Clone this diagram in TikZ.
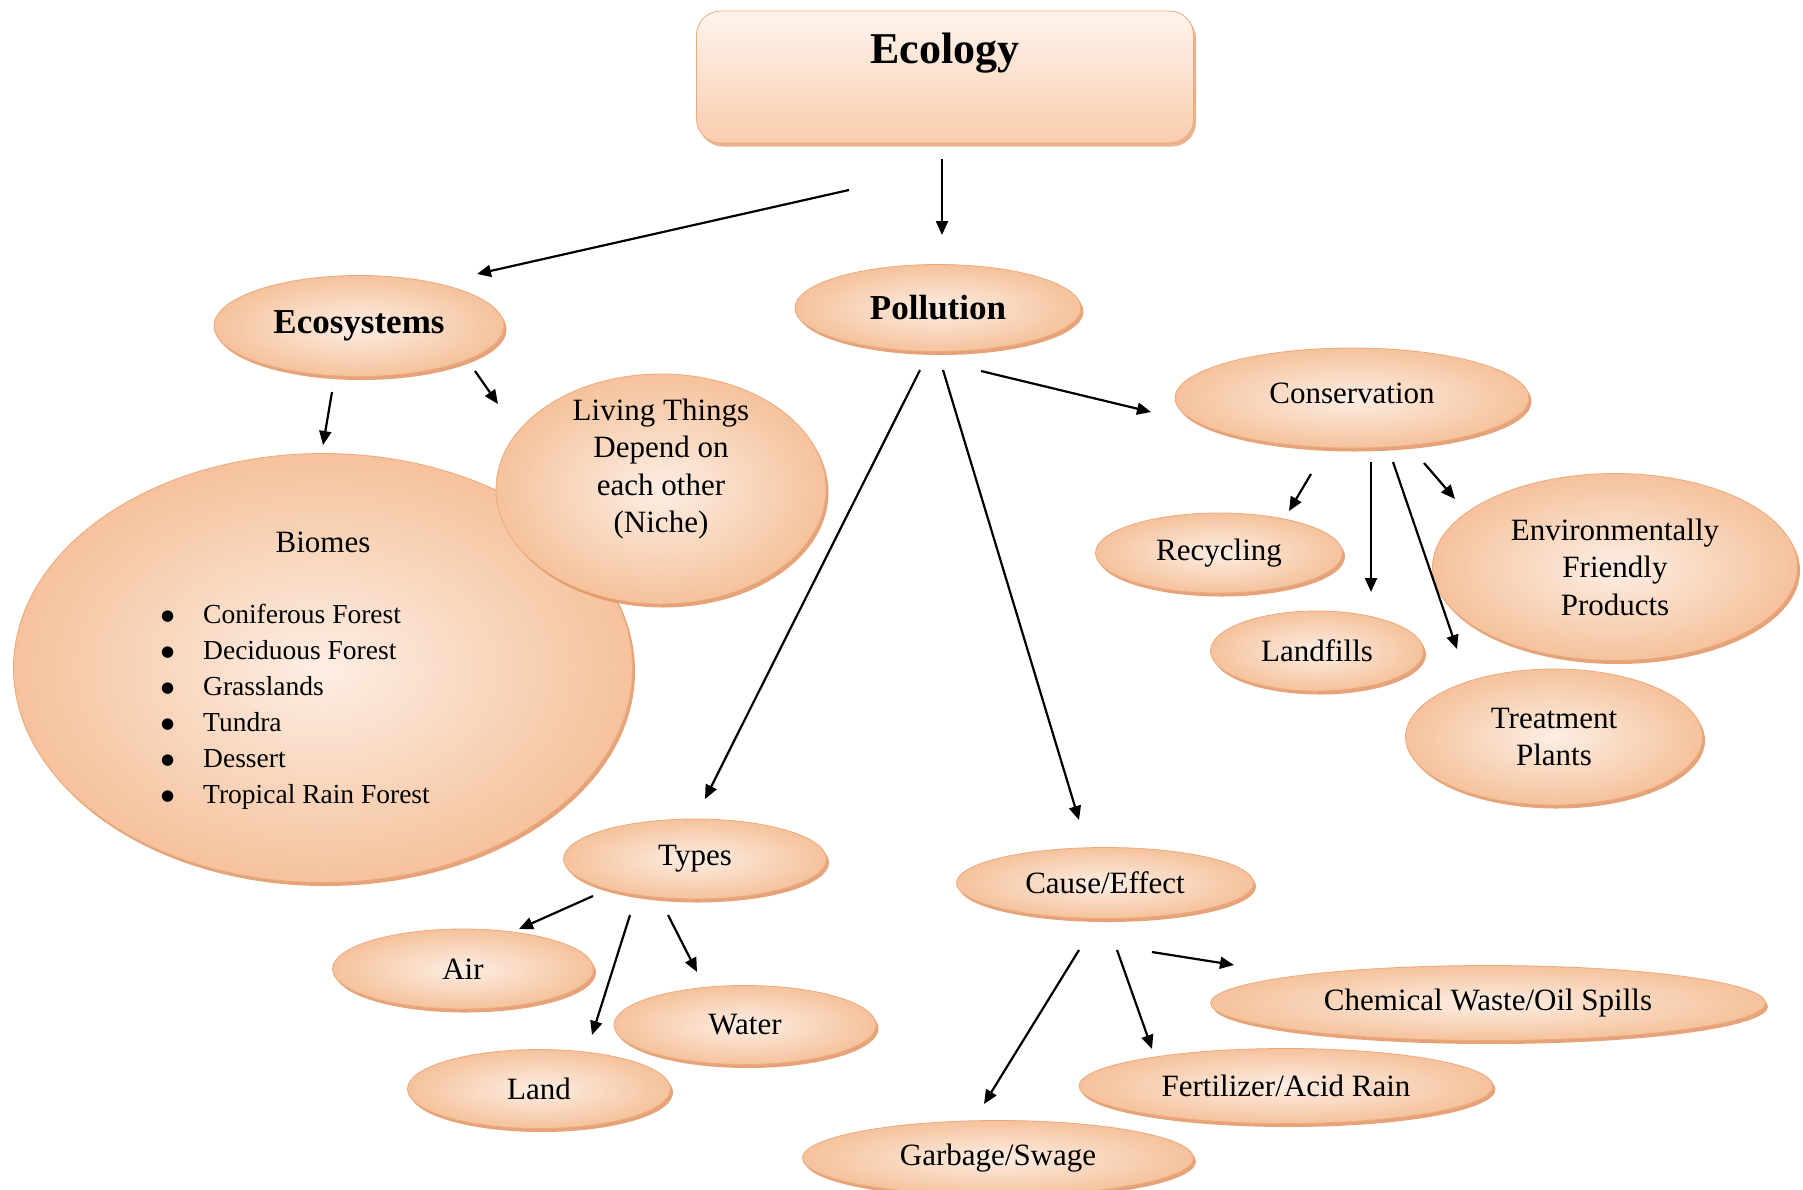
\documentclass[tikz,border=0pt]{standalone}
\usepackage{fontspec}
\setmainfont{Liberation Serif}
\newfontfamily\dotfont{DejaVu Sans}
\usetikzlibrary{shapes.geometric,shadows,arrows.meta}

\definecolor{peach}{RGB}{245,194,156}
\definecolor{peachlight}{RGB}{253,238,228}
\definecolor{peachrim}{RGB}{236,170,124}
\definecolor{peachshadow}{RGB}{226,148,98}
\definecolor{boxtop}{RGB}{254,244,237}
\definecolor{boxbottom}{RGB}{249,205,174}

% bullet for the biome list
\newcommand{\biomedot}{\makebox[42pt][l]{\raisebox{3pt}{\dotfont\fontsize{15}{15}\selectfont ●}}}

\tikzset{
  bubble/.style={ellipse, draw=peachrim, line width=0.8pt,
    shading=radial, inner color=peachlight, outer color=peach,
    drop shadow={shadow xshift=2.5pt, shadow yshift=-3.5pt,
                 fill=peachshadow, opacity=0.85},
    inner sep=0pt, align=center,
    font=\fontsize{31}{37.5}\selectfont},
  headbox/.style={rectangle, rounded corners=24pt, draw=peachrim, line width=0.8pt,
    top color=boxtop, bottom color=boxbottom,
    drop shadow={shadow xshift=2.5pt, shadow yshift=-3.5pt,
                 fill=peachshadow, opacity=0.7},
    inner sep=0pt},
  plaintext/.style={inner sep=0pt, align=center,
    font=\fontsize{31}{37.5}\selectfont},
  boldbig/.style={font=\fontsize{35}{40}\selectfont\bfseries},
  arr/.style={-{Triangle[length=14pt,width=12pt]}, line width=2.2pt},
}

\begin{document}
\begin{tikzpicture}[x=1pt,y=-1pt]
\useasboundingbox (0,0) rectangle (1803,1189);
\fill[white] (0,0) rectangle (1803,1189);

% ---------- top box ----------
\node[headbox, minimum width=497pt, minimum height=132pt] (ecology) at (945,77) {};
\node[inner sep=0pt, font=\fontsize{44}{50}\selectfont\bfseries] (ecologytitle)
  at (945,53) {Ecology};

% ---------- second level ----------
\node[bubble, boldbig, minimum width=290pt, minimum height=101pt] (ecosystems) at (359,326) {Ecosystems};
\node[bubble, boldbig, minimum width=286pt, minimum height=87pt] (pollution) at (938,308) {Pollution};

% ---------- ecosystems branch ----------
\node[bubble, minimum width=619pt, minimum height=429pt] (biomes) at (323,668) {};
\node[plaintext] (biomestitle) at (323,542) {Biomes};
\node[inner sep=0pt, anchor=north west, align=left,
      font=\fontsize{27.5}{35.9}\selectfont] (biomelist) at (161,604)
  {\biomedot Coniferous Forest\\
   \biomedot Deciduous Forest\\
   \biomedot Grasslands\\
   \biomedot Tundra\\
   \biomedot Dessert\\
   \biomedot Tropical Rain Forest};

\node[bubble, minimum width=330pt, minimum height=230pt] (living) at (661,489) {};
\node[plaintext] (livingtext) at (661,469) {Living Things\\Depend on\\each other\\(Niche)};

% ---------- conservation branch ----------
\node[bubble, minimum width=354pt, minimum height=100pt] (conservation) at (1352,398) {\raisebox{9pt}{Conservation}};
\node[bubble, minimum width=247pt, minimum height=80pt] (recycling) at (1219,553) {Recycling};
\node[bubble, minimum width=213pt, minimum height=80pt] (landfills) at (1317,651) {Landfills};
\node[bubble, minimum width=365pt, minimum height=187pt] (friendly) at (1615,567) {Environmentally\\Friendly\\Products};
\node[bubble, minimum width=297pt, minimum height=136pt] (treatment) at (1554,737) {Treatment\\Plants};

% ---------- types branch ----------
\node[bubble, minimum width=263pt, minimum height=80pt] (types) at (695,859) {Types};
\node[bubble, minimum width=261pt, minimum height=80pt] (air) at (463,969) {Air};
\node[bubble, minimum width=262pt, minimum height=79pt] (water) at (745,1025) {Water};
\node[bubble, minimum width=263pt, minimum height=79pt] (land) at (539,1089) {Land};

% ---------- cause/effect branch ----------
\node[bubble, minimum width=297pt, minimum height=71pt] (cause) at (1105,883) {Cause/Effect};
\node[bubble, minimum width=555pt, minimum height=75pt] (chemical) at (1488,1003) {Chemical Waste/Oil Spills};
\node[bubble, minimum width=414pt, minimum height=75pt] (fertilizer) at (1286,1086) {Fertilizer/Acid Rain};
\node[bubble, minimum width=391pt, minimum height=75pt] (garbage) at (998,1158) {Garbage/Swage};

% ---------- connector end points ----------
\coordinate (ecoA) at (849,190);   \coordinate (ecoB) at (477,274);
\coordinate (polA) at (942,159);   \coordinate (polB) at (942,235);
\coordinate (bioA) at (332,392);   \coordinate (bioB) at (323,445);
\coordinate (livA) at (475,371);   \coordinate (livB) at (498,404);
\coordinate (typA) at (920,370);   \coordinate (typB) at (705,799);
\coordinate (cauA) at (943,370);   \coordinate (cauB) at (1079,820);
\coordinate (conA) at (981,371);   \coordinate (conB) at (1151,412);
\coordinate (recA) at (1311,474);  \coordinate (recB) at (1289,511);
\coordinate (lanA) at (1371,462);  \coordinate (lanB) at (1371,592);
\coordinate (treA) at (1393,462);  \coordinate (treB) at (1457,649);
\coordinate (friA) at (1424,463);  \coordinate (friB) at (1455,499);
\coordinate (airA) at (593,896);   \coordinate (airB) at (519,929);
\coordinate (ldA)  at (630,915);   \coordinate (ldB)  at (592,1035);
\coordinate (watA) at (668,915);   \coordinate (watB) at (697,972);
\coordinate (garA) at (1079,950);  \coordinate (garB) at (984,1104);
\coordinate (ferA) at (1117,950);  \coordinate (ferB) at (1152,1049);
\coordinate (cheA) at (1152,952);  \coordinate (cheB) at (1234,965);

% ---------- connectors ----------
\draw[arr] (ecoA) -- (ecoB);
\draw[arr] (polA) -- (polB);
\draw[arr] (bioA) -- (bioB);
\draw[arr] (livA) -- (livB);
\draw[arr] (typA) -- (typB);
\draw[arr] (cauA) -- (cauB);
\draw[arr] (conA) -- (conB);
\draw[arr] (recA) -- (recB);
\draw[arr] (lanA) -- (lanB);
\draw[arr] (treA) -- (treB);
\draw[arr] (friA) -- (friB);
\draw[arr] (airA) -- (airB);
\draw[arr] (ldA) -- (ldB);
\draw[arr] (watA) -- (watB);
\draw[arr] (garA) -- (garB);
\draw[arr] (ferA) -- (ferB);
\draw[arr] (cheA) -- (cheB);
\end{tikzpicture}
\end{document}
